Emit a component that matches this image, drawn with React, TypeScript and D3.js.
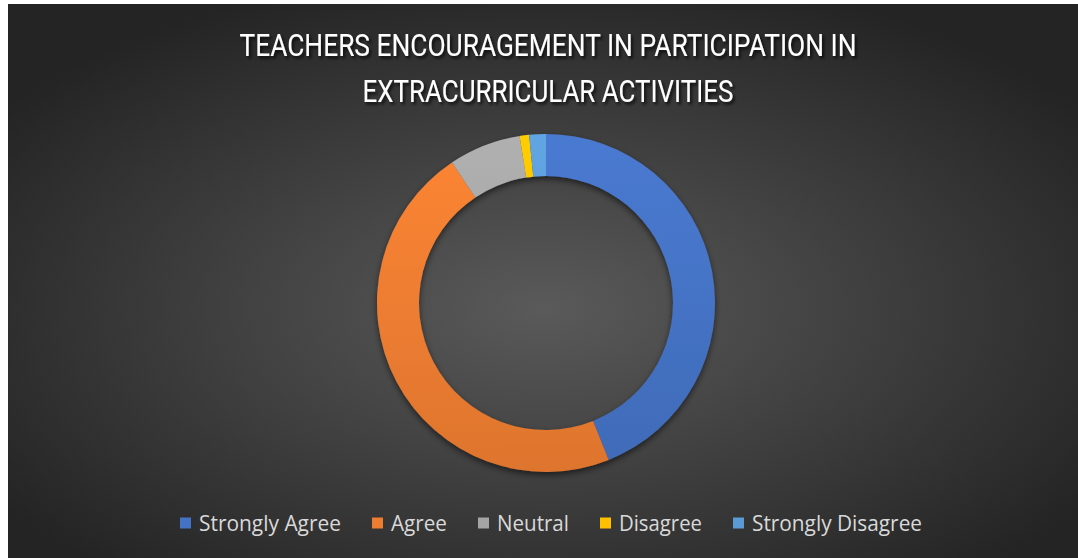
import React from "react";
import * as d3 from "d3";

const categories = ["Strongly Agree", "Agree", "Neutral", "Disagree", "Strongly Disagree"];
const values = [44.0, 46.7, 6.9, 0.9, 1.6];
const colors = ["#4472C4", "#ED7D31", "#A5A5A5", "#FFC000", "#5B9BD5"];
const titleLines = ["TEACHERS ENCOURAGEMENT IN PARTICIPATION IN", "EXTRACURRICULAR ACTIVITIES"];

const W = 1070;
const H = 554;

export default function App() {
  const cx = 538;
  const cy = 299;
  const outerR = 169;
  const innerR = 127;
  const pie = d3.pie<number>().sort(null).startAngle(0).endAngle(2 * Math.PI);
  const arcs = pie(values);
  const arc = d3.arc<d3.PieArcDatum<number>>().innerRadius(innerR).outerRadius(outerR);

  // legend layout
  const legendFont = 21;
  const legendWidths = [142, 56, 72, 83, 170];
  const sq = 11;
  const gapSqText = 8;
  const gapItems = 31;
  const itemW = legendWidths.map((w) => sq + gapSqText + w);
  const totalW = d3.sum(itemW) + gapItems * (itemW.length - 1);
  let lx = 543 - totalW / 2;
  const legendItems = categories.map((c, i) => {
    const x = lx;
    lx += itemW[i] + gapItems;
    return { c, x, i };
  });

  return (
    <svg
      width={W}
      height={H}
      style={{ position: "absolute", left: 8, top: 4, display: "block" }}
    >
      <defs>
        <radialGradient id="bg" cx="50%" cy="55%" r="62%">
          <stop offset="0%" stopColor="#5a5a5a" />
          <stop offset="100%" stopColor="#242424" />
        </radialGradient>
        <filter id="tshadow" x="-10%" y="-30%" width="120%" height="160%">
          <feDropShadow dx="2" dy="2.5" stdDeviation="1.5" floodColor="#000" floodOpacity="0.75" />
        </filter>
        <filter id="dshadow" x="-20%" y="-20%" width="140%" height="140%">
          <feDropShadow dx="0" dy="3" stdDeviation="3" floodColor="#000" floodOpacity="0.55" />
        </filter>
        {colors.map((c, i) => (
          <linearGradient
            key={i}
            id={`g${i}`}
            gradientUnits="userSpaceOnUse"
            x1={0}
            y1={-outerR}
            x2={0}
            y2={outerR}
          >
            <stop offset="0%" stopColor={d3.color(c)!.brighter(0.18).formatHex()} />
            <stop offset="100%" stopColor={d3.color(c)!.darker(0.18).formatHex()} />
          </linearGradient>
        ))}
      </defs>
      <rect x={0} y={0} width={W} height={H} fill="url(#bg)" />
      <g filter="url(#tshadow)">
        {titleLines.map((t, i) => (
          <text
            key={i}
            x={540}
            y={52 + i * 46}
            textAnchor="middle"
            fill="#ffffff"
            fontFamily="'Liberation Sans Narrow', 'Roboto', 'Liberation Sans', sans-serif"
            fontSize={31}
            textLength={i === 0 ? 617 : 371}
            lengthAdjust="spacingAndGlyphs"
          >
            {t}
          </text>
        ))}
      </g>
      <g transform={`translate(${cx},${cy})`} filter="url(#dshadow)">
        {arcs.map((a, i) => (
          <path key={i} d={arc(a) || ""} fill={`url(#g${i})`} />
        ))}
      </g>
      <g>
        {legendItems.map(({ c, x, i }) => (
          <g key={c} transform={`translate(${x},${519})`}>
            <rect x={0} y={-5.5} width={sq} height={sq} fill={colors[i]} />
            <text
              x={sq + gapSqText}
              y={0}
              dy="0.36em"
              fill="#d9d9d9"
              fontFamily="'Open Sans', 'Noto Sans', sans-serif"
              fontSize={legendFont}
              textLength={legendWidths[i]}
              lengthAdjust="spacingAndGlyphs"
            >
              {c}
            </text>
          </g>
        ))}
      </g>
    </svg>
  );
}
